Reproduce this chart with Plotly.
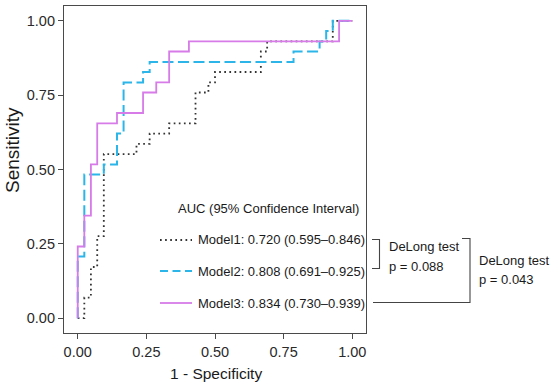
import plotly.graph_objects as go

# ---------------- data ----------------
model1_fpr = [0.000, 0.024, 0.048, 0.071, 0.095, 0.214, 0.262, 0.333, 0.429, 0.476, 0.500, 0.667, 0.690, 0.929, 1.000]
model1_tpr = [0.000, 0.069, 0.172, 0.276, 0.552, 0.586, 0.621, 0.655, 0.759, 0.793, 0.828, 0.897, 0.931, 1.000, 1.000]

model2_fpr = [0.000, 0.000, 0.024, 0.095, 0.143, 0.167, 0.238, 0.262, 0.786, 0.881, 0.905, 0.929, 1.000]
model2_tpr = [0.000, 0.207, 0.483, 0.517, 0.621, 0.793, 0.828, 0.862, 0.897, 0.931, 0.966, 1.000, 1.000]

model3_fpr = [0.000, 0.000, 0.024, 0.048, 0.071, 0.143, 0.238, 0.286, 0.333, 0.405, 0.952, 1.000]
model3_tpr = [0.000, 0.241, 0.345, 0.517, 0.655, 0.690, 0.759, 0.793, 0.897, 0.931, 1.000, 1.000]

legend_title = "AUC (95% Confidence Interval)"
legend_labels = ["Model1: 0.720 (0.595\u20130.846)",
                 "Model2: 0.808 (0.691\u20130.925)",
                 "Model3: 0.834 (0.730\u20130.939)"]
delong_12 = ["DeLong test", "p = 0.088"]
delong_13 = ["DeLong test", "p = 0.043"]

tick_vals = [0, 0.25, 0.5, 0.75, 1]
tick_text = ["0.00", "0.25", "0.50", "0.75", "1.00"]
x_title = "1 - Specificity"
y_title = "Sensitivity"

# ---------------- styling ----------------
W, H = 550, 388
L, R, T, B = 64, 366, 6, 333          # plot area in pixels
FONT = "Liberation Sans, Arial, sans-serif"
C1, C2, C3 = "#333333", "#2bb5e8", "#d67be8"
D1, D2, D3 = "1.7px,3.4px", "11px,4.5px", "solid"
AX = "#4a4a4a"
TXT = "#1a1a1a"


def px(xp):
    return (xp - L) / (R - L)


def py(yp):
    return (B - yp) / (B - T)


fig = go.Figure()
for fx, ty, col, dash, w in [(model1_fpr, model1_tpr, C1, D1, 1.8),
                             (model2_fpr, model2_tpr, C2, D2, 2.0),
                             (model3_fpr, model3_tpr, C3, D3, 1.8)]:
    fig.add_trace(go.Scatter(x=fx, y=ty, mode="lines", line_shape="hv",
                             line=dict(color=col, dash=dash, width=w),
                             showlegend=False, hoverinfo="skip"))

axis_common = dict(range=[-0.05, 1.05], tickvals=tick_vals, ticktext=tick_text,
                   ticks="outside", ticklen=5, tickwidth=1, tickcolor=AX,
                   showline=True, linecolor=AX, linewidth=1.2, mirror=True,
                   showgrid=False, zeroline=False,
                   tickfont=dict(family=FONT, size=14.5, color="#2a2a2a"))
fig.update_xaxes(**axis_common)
fig.update_yaxes(**axis_common)

shapes = []
annotations = []

# axis titles
annotations.append(dict(x=px(216), y=py(373), xref="paper", yref="paper", text=x_title,
                        showarrow=False, xanchor="center", yanchor="middle",
                        font=dict(family=FONT, size=15.5, color=TXT)))
annotations.append(dict(x=px(12), y=py(150), xref="paper", yref="paper", text=y_title,
                        showarrow=False, xanchor="center", yanchor="middle", textangle=-90,
                        font=dict(family=FONT, size=19, color=TXT)))

# legend (inside panel)
annotations.append(dict(x=px(361), y=py(208), xref="paper", yref="paper", text=legend_title,
                        showarrow=False, xanchor="right", yanchor="middle",
                        font=dict(family=FONT, size=13, color=TXT)))
leg_y = [240, 271, 303]
leg_style = [(C1, D1, 1.8), (C2, "8px,4.5px", 2.0), (C3, D3, 1.8)]
for lab, yy, (col, dash, w) in zip(legend_labels, leg_y, leg_style):
    shapes.append(dict(type="line", xref="paper", yref="paper",
                       x0=px(160), x1=px(192), y0=py(yy), y1=py(yy),
                       line=dict(color=col, dash=dash, width=w)))
    annotations.append(dict(x=px(196), y=py(yy), xref="paper", yref="paper", text=lab,
                            showarrow=False, xanchor="left", yanchor="middle",
                            font=dict(family=FONT, size=13, color=TXT)))

# DeLong brackets
BR = "#444444"
shapes += [
    dict(type="path", xref="paper", yref="paper",
         path=f"M {px(372)} {py(239.5)} L {px(379.5)} {py(239.5)} L {px(379.5)} {py(268.5)} L {px(372)} {py(268.5)}",
         line=dict(color=BR, width=1.1)),
    dict(type="path", xref="paper", yref="paper",
         path=f"M {px(462)} {py(238.5)} L {px(470)} {py(238.5)} L {px(470)} {py(302.5)} L {px(373)} {py(302.5)}",
         line=dict(color=BR, width=1.1)),
]
for txt, xx, yy in [(delong_12[0], 386.5, 246.5), (delong_12[1], 386.5, 266.5),
                    (delong_13[0], 476.5, 260.5), (delong_13[1], 476.5, 279.5)]:
    annotations.append(dict(x=px(xx), y=py(yy), xref="paper", yref="paper", text=txt,
                            showarrow=False, xanchor="left", yanchor="middle",
                            font=dict(family=FONT, size=13, color=TXT)))

fig.update_layout(width=W, height=H, margin=dict(l=L, r=W - R, t=T, b=H - B),
                  paper_bgcolor="white", plot_bgcolor="white",
                  shapes=shapes, annotations=annotations, showlegend=False)

fig.write_html("out.html", config={"displayModeBar": False},
               post_script="document.body.style.margin='0';")
